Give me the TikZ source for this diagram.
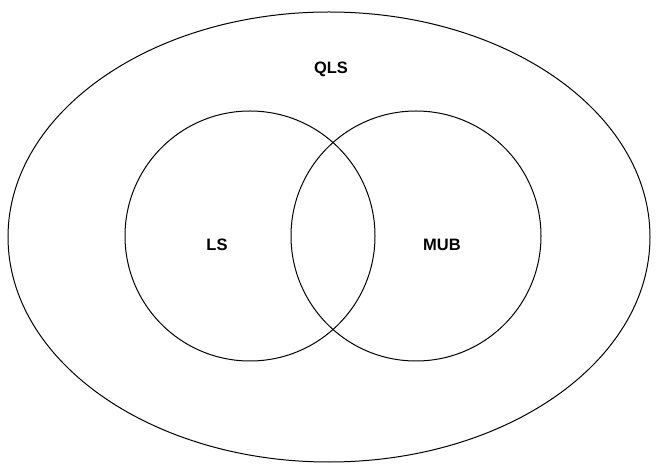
\documentclass[tikz,border=0pt]{standalone}
\usepackage{fontspec}
\setmainfont{Liberation Sans}
\usetikzlibrary{shapes.geometric}
\begin{document}
\begin{tikzpicture}[x=1pt,y=1pt,
  shapeline/.style={draw=black,line width=1pt},
  lab/.style={font=\fontsize{16.5}{18}\selectfont\bfseries}]
\useasboundingbox (0,0) rectangle (656,466);
\node[shapeline,ellipse,minimum width=642pt,minimum height=450pt,inner sep=0pt] (qls) at (329,229) {};
\node[shapeline,circle,minimum size=250pt,inner sep=0pt] (ls) at (250,230) {};
\node[shapeline,circle,minimum size=250pt,inner sep=0pt] (mub) at (416,230) {};
\node[lab] (tq) at (331,397) {QLS};
\node[lab] (tl) at (217,221) {LS};
\node[lab] (tm) at (442,221) {MUB};
\end{tikzpicture}
\end{document}
